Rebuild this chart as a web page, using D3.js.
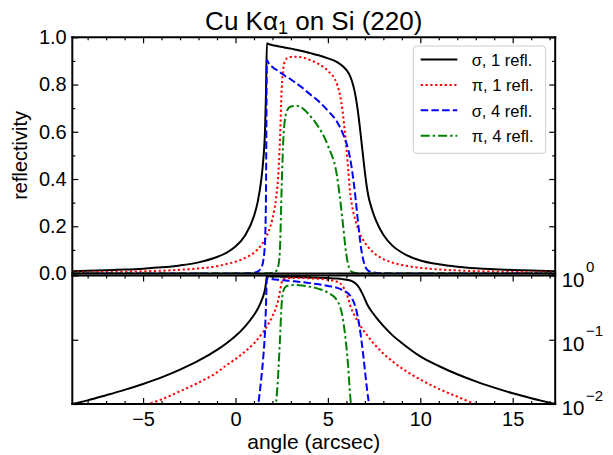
<!DOCTYPE html>
<html><head><meta charset="utf-8">
<script src="https://cdn.jsdelivr.net/npm/d3@7"></script>
<style>
body{margin:0;background:#fff;}
svg{display:block;}
text{font-family:"Liberation Sans",Arial,Helvetica,sans-serif;fill:#000;}
</style>
</head><body>
<svg id="c" width="613" height="455"></svg>
<script>
// ---------------- data ----------------
const angles = [-8.83,-8,-7,-6,-5,-4,-3,-2,-1,-0.5,0,0.5,1.0,1.2,1.4,1.5,1.6,1.65,1.7,1.8,2.0,2.1,2.2,2.3,2.4,2.5,2.6,2.7,2.8,3.0,3.3,3.6,4.0,4.5,5.0,5.5,5.8,6.0,6.1,6.2,6.3,6.4,6.5,6.6,6.7,6.8,6.9,7.0,7.1,7.2,7.4,7.6,8.0,8.5,9,10,11,12,13,14,15,16,17.3];
const sigma1 = [0.0100,0.0114,0.0137,0.0166,0.0205,0.026,0.0343,0.0472,0.0697,0.0876,0.114,0.159,0.243,0.302,0.40,0.478,0.61,0.76,0.975,0.971,0.967,0.965,0.964,0.962,0.961,0.959,0.958,0.956,0.955,0.952,0.947,0.942,0.934,0.924,0.911,0.895,0.878,0.862,0.851,0.836,0.815,0.787,0.75,0.70,0.64,0.57,0.50,0.43,0.37,0.325,0.268,0.225,0.164,0.117,0.089,0.055,0.039,0.029,0.0225,0.018,0.0147,0.0123,0.0100];
const pi1 = [0.0046,0.0053,0.0063,0.0075,0.0094,0.0118,0.0158,0.0215,0.031,0.040,0.050,0.065,0.088,0.102,0.121,0.132,0.145,0.153,0.161,0.18,0.232,0.27,0.32,0.40,0.55,0.78,0.875,0.902,0.912,0.917,0.918,0.915,0.905,0.887,0.858,0.80,0.685,0.53,0.44,0.345,0.29,0.252,0.222,0.197,0.176,0.158,0.143,0.13,0.12,0.11,0.093,0.08,0.061,0.046,0.036,0.024,0.0172,0.013,0.0099,0.008,0.0066,0.0055,0.0045];
const sigma4 = [1.0e-8,1.69e-8,3.52e-8,7.6e-8,1.77e-7,4.57e-7,1.38e-6,4.96e-6,2.36e-5,5.89e-5,1.69e-4,6.39e-4,0.003487,0.008318,0.0256,0.05221,0.1385,0.3336,0.9037,0.8890,0.8744,0.8672,0.8636,0.8565,0.8529,0.8458,0.8423,0.8353,0.8318,0.8214,0.8043,0.7874,0.7610,0.7289,0.6888,0.6416,0.5943,0.5521,0.5245,0.4885,0.4412,0.3836,0.3164,0.2401,0.1678,0.1056,0.0625,0.03419,0.01874,0.01116,0.005159,0.002563,7.234e-4,1.874e-4,6.27e-5,9.15e-6,2.31e-6,7.07e-7,2.56e-7,1.05e-7,4.67e-8,2.29e-8,1.0e-8];
const pi4 = [4.48e-10,7.89e-10,1.58e-9,3.16e-9,7.81e-9,1.94e-8,6.23e-8,2.14e-7,9.24e-7,2.56e-6,6.25e-6,1.79e-5,6.0e-5,1.08e-4,2.14e-4,3.04e-4,4.42e-4,5.48e-4,6.72e-4,1.05e-3,2.897e-3,5.31e-3,0.01049,0.0256,0.09151,0.3702,0.5862,0.6620,0.6918,0.7071,0.7102,0.7009,0.6708,0.6190,0.5419,0.4096,0.2202,0.0789,0.03748,0.01417,0.007073,0.004033,0.002429,0.001506,9.6e-4,6.23e-4,4.18e-4,2.86e-4,2.07e-4,1.46e-4,7.48e-5,4.1e-5,1.38e-5,4.48e-6,1.68e-6,3.32e-7,8.75e-8,2.86e-8,9.6e-9,4.1e-9,1.9e-9,9.2e-10,4.1e-10];
const seriesNames = ["σ, 1 refl.","π, 1 refl.","σ, 4 refl.","π, 4 refl."];
const xDomain = [-8.83, 17.3];
const xTicks = [-5,0,5,10,15];
const xTickLabels = ["\u22125","0","5","10","15"];
const linTicks = [0,0.2,0.4,0.6,0.8,1.0];
const linTickLabels = ["0.0","0.2","0.4","0.6","0.8","1.0"];
const logTicks = [1,0.1,0.01];
const logTickExps = ["0","\u22121","\u22122"];

// ---------------- styles ----------------
const seriesColors = ["#000000","#ff0000","#0000ff","#008000"];
const seriesDash = [null,"2.2,2.6","7.5,3.2","9,3,2.4,3"];

// ---------------- layout ----------------
const svg = d3.select("#c");
const L = 72.3, R = 555.2, T1 = 37.3, B1 = 273.5, T2 = 275.5, B2 = 404;
const x = d3.scaleLinear().domain(xDomain).range([L, R]);
const yLin = d3.scaleLinear().domain([0, 1]).range([B1, T1]);
const yLog = d3.scaleLog().domain([0.01, 1]).range([B2, T2]);

const defs = svg.append("defs");
defs.append("clipPath").attr("id","clipTop").append("rect").attr("x",L).attr("y",T1).attr("width",R-L).attr("height",B1-T1);
defs.append("clipPath").attr("id","clipBot").append("rect").attr("x",L).attr("y",T2).attr("width",R-L).attr("height",B2-T2);

const allSeries = [sigma1, pi1, sigma4, pi4];

// ---------------- curves ----------------
const gTop = svg.append("g").attr("clip-path","url(#clipTop)");
const gBot = svg.append("g").attr("clip-path","url(#clipBot)");
allSeries.forEach((vals, i) => {
  const pts = angles.map((a, k) => [a, vals[k]]);
  const lineLin = d3.line().x(d => x(d[0])).y(d => yLin(d[1])).curve(d3.curveMonotoneX);
  const lineLog = d3.line().x(d => x(d[0])).y(d => yLog(Math.max(d[1], 1e-6))).curve(d3.curveMonotoneX);
  [[gTop, lineLin],[gBot, lineLog]].forEach(([g, ln]) => {
    const p = g.append("path").attr("d", ln(pts)).attr("fill","none")
      .attr("stroke", seriesColors[i]).attr("stroke-width", 2).attr("stroke-linejoin","round");
    if (seriesDash[i]) p.attr("stroke-dasharray", seriesDash[i]);
  });
});

// ---------------- ticks ----------------
const minorX = d3.range(-8, 18, 1).filter(v => !xTicks.includes(v));
const minorLin = d3.range(0.1, 1.0, 0.2).map(v => +v.toFixed(1));
function styleAxis(g){ g.select(".domain").remove(); g.selectAll(".tick line").attr("stroke","#000").attr("stroke-width",1.2); }

// top panel
svg.append("g").attr("transform",`translate(0,${T1})`).call(d3.axisBottom(x).tickValues(xTicks).tickSize(6).tickFormat("")).call(styleAxis);
svg.append("g").attr("transform",`translate(0,${T1})`).call(d3.axisBottom(x).tickValues(minorX).tickSize(3).tickFormat("")).call(styleAxis);
svg.append("g").attr("transform",`translate(${L},0)`)
  .call(d3.axisLeft(yLin).tickValues(linTicks).tickSize(-6).tickPadding(5.6).tickFormat((d,i) => linTickLabels[i]))
  .call(styleAxis).call(g => g.selectAll("text").attr("font-size",20).attr("font-family",null));
svg.append("g").attr("transform",`translate(${L},0)`).call(d3.axisLeft(yLin).tickValues(minorLin).tickSize(-3).tickFormat("")).call(styleAxis);
svg.append("g").attr("transform",`translate(${R},0)`).call(d3.axisRight(yLin).tickValues(linTicks).tickSize(-6).tickFormat("")).call(styleAxis);
svg.append("g").attr("transform",`translate(${R},0)`).call(d3.axisRight(yLin).tickValues(minorLin).tickSize(-3).tickFormat("")).call(styleAxis);

// bottom panel
svg.append("g").attr("transform",`translate(0,${B2})`)
  .call(d3.axisBottom(x).tickValues(xTicks).tickSize(-6).tickPadding(7.3).tickFormat((d,i) => xTickLabels[i]))
  .call(styleAxis).call(g => g.selectAll("text").attr("font-size",20).attr("font-family",null));
svg.append("g").attr("transform",`translate(0,${B2})`).call(d3.axisBottom(x).tickValues(minorX).tickSize(-3).tickFormat("")).call(styleAxis);
svg.append("g").attr("transform",`translate(0,${T2})`).call(d3.axisTop(x).tickValues(xTicks).tickSize(-6).tickFormat("")).call(styleAxis);
svg.append("g").attr("transform",`translate(0,${T2})`).call(d3.axisTop(x).tickValues(minorX).tickSize(-3).tickFormat("")).call(styleAxis);
svg.append("g").attr("transform",`translate(${L},0)`).call(d3.axisLeft(yLog).tickValues(logTicks).tickSize(-6).tickFormat("")).call(styleAxis);
svg.append("g").attr("transform",`translate(${R},0)`).call(d3.axisRight(yLog).tickValues(logTicks).tickSize(-6).tickFormat("")).call(styleAxis);

// log tick labels on the right (10^k)
logTicks.forEach((v, i) => {
  const t = svg.append("text").attr("x", R + 6.5).attr("y", yLog(v) + 11.2).attr("font-size", 20.5);
  t.append("tspan").text("10");
  t.append("tspan").attr("dy", -14.5).attr("dx", 1.5).attr("font-size", 15).text(logTickExps[i]);
});

// ---------------- spines ----------------
const spine = (x1,y1,x2,y2) => svg.append("line").attr("x1",x1).attr("y1",y1).attr("x2",x2).attr("y2",y2)
  .attr("stroke","#000").attr("stroke-width",2).attr("stroke-linecap","square");
spine(L,T1,R,T1); spine(L,B1,R,B1); spine(L,T1,L,B1); spine(R,T1,R,B1);
spine(L,T2,R,T2); spine(L,B2,R,B2); spine(L,T2,L,B2); spine(R,T2,R,B2);

// ---------------- texts ----------------
const title = svg.append("text").attr("x", (L+R)/2).attr("y", 30).attr("text-anchor","middle").attr("font-size", 26);
title.append("tspan").text("Cu K\u03b1");
title.append("tspan").attr("font-size", 18).attr("dy", 4).text("1");
title.append("tspan").attr("dy", -4).text(" on Si (220)");

svg.append("text").attr("transform", `translate(27,${(T1+B1)/2}) rotate(-90)`)
  .attr("text-anchor","middle").attr("font-size",20).text("reflectivity");
svg.append("text").attr("x",(L+R)/2).attr("y",449).attr("text-anchor","middle").attr("font-size",21).text("angle (arcsec)");

// ---------------- legend ----------------
const lg = svg.append("g");
lg.append("rect").attr("x",413.3).attr("y",46).attr("width",132.4).attr("height",107.3).attr("rx",3.5)
  .attr("fill","#fff").attr("fill-opacity",0.85).attr("stroke","#cccccc").attr("stroke-width",1);
seriesNames.forEach((name, i) => {
  const yy = 59.5 + i * 25.4;
  const ln = lg.append("line").attr("x1",420.7).attr("x2",457.3).attr("y1",yy).attr("y2",yy)
    .attr("stroke",seriesColors[i]).attr("stroke-width",2);
  if (seriesDash[i]) ln.attr("stroke-dasharray", seriesDash[i]);
  lg.append("text").attr("x",471.7).attr("y",yy+6.5).attr("font-size",16.5).text(name);
});
</script>
</body></html>
